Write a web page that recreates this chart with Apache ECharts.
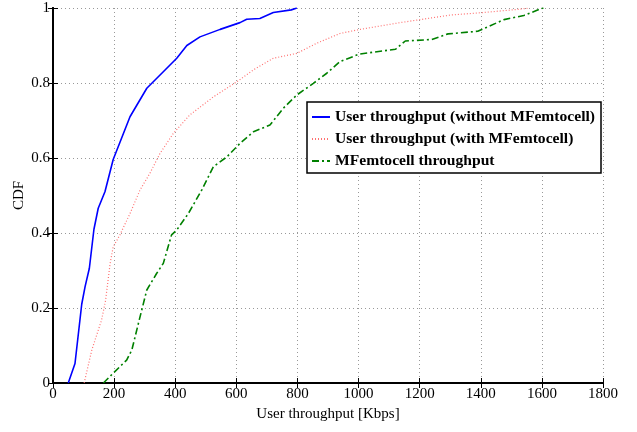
<!DOCTYPE html>
<html>
<head>
<meta charset="utf-8">
<script src="https://cdn.jsdelivr.net/npm/echarts@6/dist/echarts.min.js"></script>
<style>
  html, body { margin: 0; padding: 0; background: #fff; }
  #main { width: 637px; height: 432px; }
</style>
</head>
<body>
<div id="main"></div>
<script>
// CDF curves (x in Kbps, y as cumulative probability)
const withoutX = [50, 72, 94, 105, 119, 134, 148, 159, 170, 197, 252, 307, 361, 405, 438, 481, 547, 612, 634, 677, 721, 780, 798];
const withoutY = [0, 0.052, 0.21, 0.257, 0.306, 0.41, 0.466, 0.488, 0.51, 0.596, 0.71, 0.786, 0.83, 0.866, 0.9, 0.923, 0.943, 0.961, 0.97, 0.972, 0.988, 0.995, 1];

const withX = [102, 127, 159, 172, 187, 197, 219, 252, 285, 317, 350, 394, 448, 525, 601, 656, 721, 798, 863, 939, 1005, 1136, 1299, 1408, 1518, 1560];
const withY = [0, 0.088, 0.168, 0.22, 0.319, 0.363, 0.395, 0.452, 0.515, 0.559, 0.612, 0.666, 0.715, 0.763, 0.803, 0.835, 0.866, 0.879, 0.906, 0.932, 0.943, 0.961, 0.981, 0.988, 0.996, 1];

const femtoX = [165, 197, 241, 258, 285, 307, 339, 361, 388, 405, 443, 487, 525, 569, 612, 656, 710, 754, 798, 852, 896, 939, 1002, 1121, 1153, 1239, 1293, 1390, 1476, 1541, 1594, 1605];
const femtoY = [0, 0.026, 0.061, 0.088, 0.177, 0.248, 0.292, 0.319, 0.395, 0.408, 0.452, 0.515, 0.577, 0.603, 0.639, 0.67, 0.688, 0.733, 0.768, 0.799, 0.826, 0.857, 0.877, 0.89, 0.912, 0.916, 0.931, 0.938, 0.969, 0.98, 0.997, 1];

const seriesNames = [
  "User throughput (without MFemtocell)",
  "User throughput (with MFemtocell)",
  "MFemtocell throughput"
];

const xTicks = { min: 0, max: 1800, interval: 200 };
const yTicks = { min: 0, max: 1, interval: 0.2 };

const zip = (xs, ys) => xs.map((x, i) => [x, ys[i]]);

const font = "Liberation Serif, Times New Roman, serif";

const chart = echarts.init(document.getElementById("main"));

const baseX = {
  type: "value",
  min: xTicks.min, max: xTicks.max, interval: xTicks.interval
};
const baseY = {
  type: "value",
  min: yTicks.min, max: yTicks.max, interval: yTicks.interval
};

chart.setOption({
  animation: false,
  backgroundColor: "#fff",
  grid: { left: 53, right: 34, top: 8, bottom: 49, containLabel: false },
  legend: {
    left: 307, top: 102,
    orient: "vertical",
    backgroundColor: "#fff",
    borderColor: "#000", borderWidth: 1.5,
    padding: [7, 6, 4, 4],
    itemWidth: 18, itemHeight: 10, itemGap: 6,
    itemStyle: { opacity: 0 },
    textStyle: { fontFamily: font, fontWeight: "bold", fontSize: 15.6, color: "#000" },
    data: seriesNames
  },
  xAxis: [
    Object.assign({}, baseX, {
      position: "bottom",
      name: "User throughput [Kbps]",
      nameLocation: "middle", nameGap: 24, nameMoveOverlap: false,
      nameTextStyle: { fontFamily: font, fontSize: 15, color: "#000" },
      axisLine: { lineStyle: { color: "#000", width: 2 } },
      axisTick: { inside: true, length: 5, lineStyle: { color: "#000" } },
      axisLabel: { fontFamily: font, fontSize: 15, color: "#000", margin: 4, formatter: v => String(v) },
      splitLine: { show: true, lineStyle: { color: "#999", type: [1, 3], width: 1 } }
    }),
    Object.assign({}, baseX, {
      position: "top",
      axisLine: { lineStyle: { color: "#000", width: 2 } },
      axisTick: { inside: true, length: 5, lineStyle: { color: "#000" } },
      axisLabel: { show: false },
      splitLine: { show: false }
    })
  ],
  yAxis: [
    Object.assign({}, baseY, {
      position: "left",
      name: "CDF",
      nameLocation: "middle", nameGap: 26, nameMoveOverlap: false,
      nameTextStyle: { fontFamily: font, fontSize: 15, color: "#000" },
      axisLine: { show: true, lineStyle: { color: "#000", width: 2 } },
      axisTick: { show: true, inside: true, length: 5, lineStyle: { color: "#000" } },
      axisLabel: { fontFamily: font, fontSize: 15, color: "#000", margin: 3, formatter: v => String(v) },
      splitLine: { show: true, lineStyle: { color: "#999", type: [1, 3], width: 1 } }
    }),
    Object.assign({}, baseY, {
      position: "right",
      axisLine: { show: true, lineStyle: { color: "#000", width: 2 } },
      axisTick: { show: true, inside: true, length: 5, lineStyle: { color: "#000" } },
      axisLabel: { show: false },
      splitLine: { show: false }
    })
  ],
  series: [
    {
      name: seriesNames[0], type: "line", symbol: "none",
      data: zip(withoutX, withoutY),
      itemStyle: { color: "#0000ff" },
      lineStyle: { color: "#0000ff", width: 1.6 }
    },
    {
      name: seriesNames[1], type: "line", symbol: "none",
      data: zip(withX, withY),
      itemStyle: { color: "#ff7070" },
      lineStyle: { color: "#ff7070", width: 1.2, type: [1, 2] }
    },
    {
      name: seriesNames[2], type: "line", symbol: "none",
      data: zip(femtoX, femtoY),
      itemStyle: { color: "#008000" },
      lineStyle: { color: "#008000", width: 1.6, type: [7, 3, 2, 3] }
    }
  ]
});
</script>
</body>
</html>
